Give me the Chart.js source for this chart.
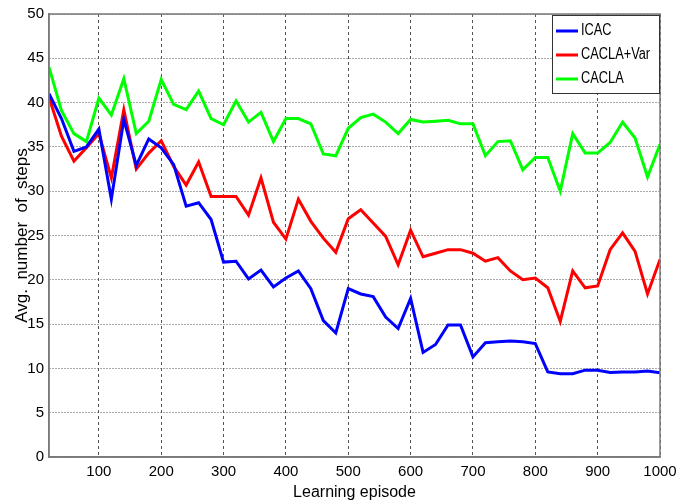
<!DOCTYPE html>
<html>
<head>
<meta charset="utf-8">
<script src="https://cdn.jsdelivr.net/npm/chart.js@4/dist/chart.umd.min.js"></script>
<style>
  html, body { margin: 0; padding: 0; background: #fff; }
  #wrap { width: 699px; height: 504px; }
</style>
</head>
<body>
<div id="wrap"><canvas id="stepsChart" width="699" height="504"></canvas></div>
<script>
// episodios 20, 40, ... 1000
const episodes = [20, 40, 60, 80, 100, 120, 140, 160, 180, 200, 220, 240, 260, 280, 300, 320, 340, 360, 380, 400,
  420, 440, 460, 480, 500, 520, 540, 560, 580, 600, 620, 640, 660, 680, 700, 720, 740, 760, 780, 800,
  820, 840, 860, 880, 900, 920, 940, 960, 980, 1000];

const icac = [41.0, 38.2, 34.5, 35.0, 37.0, 29.1, 38.1, 32.9, 35.9, 34.9, 33.0, 28.3, 28.7, 26.8, 22.0, 22.1, 20.1, 21.1, 19.2, 20.2,
  21.0, 19.0, 15.4, 14.0, 19.0, 18.4, 18.1, 15.8, 14.5, 17.9, 11.8, 12.7, 14.9, 14.9, 11.3, 12.9, 13.0, 13.1, 13.0, 12.8,
  9.6, 9.4, 9.4, 9.8, 9.8, 9.55, 9.6, 9.6, 9.7, 9.5];

const caclaVar = [40.6, 36.2, 33.4, 34.9, 36.5, 31.5, 39.2, 32.5, 34.3, 35.7, 32.8, 30.7, 33.3, 29.4, 29.4, 29.4, 27.3, 31.5, 26.5, 24.6,
  29.1, 26.6, 24.7, 23.1, 26.9, 27.9, 26.4, 24.9, 21.7, 25.6, 22.6, 23.0, 23.4, 23.4, 23.0, 22.1, 22.5, 21.0, 20.0, 20.2,
  19.1, 15.3, 21.0, 19.1, 19.3, 23.4, 25.3, 23.2, 18.4, 22.3];

const cacla = [44.0, 39.1, 36.5, 35.6, 40.5, 38.6, 42.7, 36.5, 37.9, 42.6, 39.8, 39.2, 41.3, 38.2, 37.5, 40.2, 37.8, 38.9, 35.6, 38.2,
  38.2, 37.6, 34.2, 34.0, 37.1, 38.3, 38.7, 37.8, 36.5, 38.1, 37.8, 37.9, 38.0, 37.6, 37.6, 34.0, 35.6, 35.7, 32.4, 33.8,
  33.8, 30.0, 36.5, 34.3, 34.3, 35.5, 37.8, 36.0, 31.6, 35.3];

const xTicks = [100, 200, 300, 400, 500, 600, 700, 800, 900, 1000];

const FONT = "'Liberation Sans', Arial, sans-serif";

function toPoints(ys) {
  return episodes.map((x, i) => ({ x: x, y: ys[i] }));
}

// caja alrededor del área y leyenda dentro del gráfico
const boxAndLegend = {
  id: 'boxAndLegend',
  afterDraw(chart) {
    const c = chart.ctx;
    const a = chart.chartArea;
    c.save();
    c.strokeStyle = '#7a7a7a';
    c.lineWidth = 1.5;
    c.strokeRect(a.left, a.top, a.right - a.left, a.bottom - a.top);

    const bx = 552, by = 15, bw = 107, bh = 78;
    c.fillStyle = '#fff';
    c.fillRect(bx, by, bw, bh);
    c.strokeStyle = '#333';
    c.lineWidth = 1;
    c.strokeRect(bx + 0.5, by + 0.5, bw, bh);
    c.font = '16px ' + FONT;
    c.textBaseline = 'middle';
    chart.data.datasets.forEach((ds, i) => {
      const y = by + 16 + i * 24;
      c.strokeStyle = ds.borderColor;
      c.lineWidth = 3;
      c.beginPath();
      c.moveTo(bx + 4, y);
      c.lineTo(bx + 26, y);
      c.stroke();
      c.save();
      c.translate(bx + 29, y);
      c.scale(0.8, 1);
      c.fillStyle = '#000';
      c.fillText(ds.label, 0, 0);
      c.restore();
    });
    c.restore();
  }
};

const ctx = document.getElementById('stepsChart').getContext('2d');
const stepsChart = new Chart(ctx, {
  type: 'line',
  data: {
    datasets: [
      { label: 'ICAC', data: toPoints(icac), borderColor: '#0000ff' },
      { label: 'CACLA+Var', data: toPoints(caclaVar), borderColor: '#ff0000' },
      { label: 'CACLA', data: toPoints(cacla), borderColor: '#00ff00' }
    ]
  },
  options: {
    responsive: false,
    animation: false,
    layout: { padding: { left: 0, right: 39, top: -3, bottom: 0 } },
    elements: {
      line: { borderWidth: 3, tension: 0, fill: false },
      point: { radius: 0 }
    },
    plugins: {
      legend: { display: false },
      tooltip: { enabled: false }
    },
    scales: {
      x: {
        type: 'linear',
        min: 20,
        max: 1000,
        afterBuildTicks(scale) {
          scale.ticks = xTicks.map(v => ({ value: v }));
        },
        afterFit(scale) { scale.height = 47; },
        grid: {
          color: '#555',
          lineWidth: 1,
          drawTicks: false
        },
        border: { display: true, color: '#7a7a7a', width: 1.5, dash: [3, 3] },
        ticks: {
          padding: 6,
          color: '#000',
          maxRotation: 0,
          font: { family: FONT, size: 15 },
          callback: v => String(v)
        },
        title: {
          display: true,
          text: 'Learning episode',
          color: '#000',
          padding: { top: 0, bottom: 2 },
          font: { family: FONT, size: 16 }
        }
      },
      y: {
        min: 0,
        max: 50,
        afterFit(scale) { scale.width = 49; },
        grid: {
          color: '#555',
          lineWidth: 1,
          drawTicks: false
        },
        border: { display: true, color: '#7a7a7a', width: 1.5, dash: [1, 2] },
        ticks: {
          stepSize: 5,
          padding: 5,
          color: '#000',
          font: { family: FONT, size: 15 }
        },
        title: {
          display: true,
          text: 'Avg.  number  of  steps',
          color: '#000',
          padding: { top: 12, bottom: 0 },
          font: { family: FONT, size: 17 }
        }
      }
    }
  },
  plugins: [boxAndLegend]
});
</script>
</body>
</html>
